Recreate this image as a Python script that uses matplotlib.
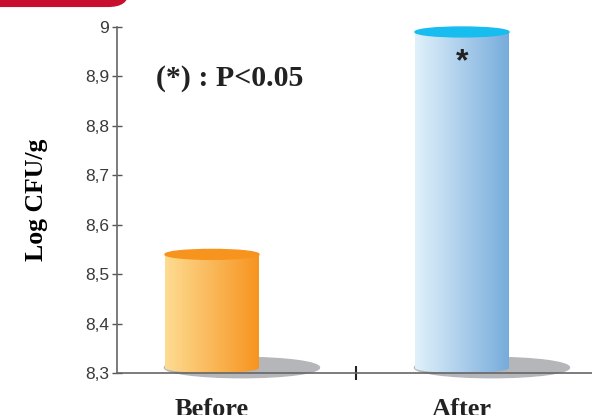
import numpy as np
import matplotlib.pyplot as plt
from matplotlib.patches import Ellipse, PathPatch, FancyBboxPatch
from matplotlib.path import Path
from matplotlib.colors import LinearSegmentedColormap

groups = ['Before', 'After']
log_cfu = [8.54, 8.99]
yticks = [8.3, 8.4, 8.5, 8.6, 8.7, 8.8, 8.9, 9.0]
ytick_labels = ['8,3', '8,4', '8,5', '8,6', '8,7', '8,8', '8,9', '9']
marks = ['', '*']

side_colors = [('#fddc92', '#f7931e'), ('#e0f1fb', '#76abdb')]
top_colors = ['#f7941d', '#18bdef']

fig = plt.figure(figsize=(5.92, 4.15), dpi=100)
ax = fig.add_axes([0.1976, 0.1012, 0.8024, 0.8337])

base = 8.31
w = 0.376
eh = 0.02

for i, (g, v) in enumerate(zip(groups, log_cfu)):
    x0, x1 = i - w / 2, i + w / 2
    # floor shadow
    ax.add_patch(Ellipse((i + 0.12, 8.311), 0.62, 0.041, color='#b5b6ba', zorder=1, clip_on=False))
    # cylinder body: straight sides + rounded bottom
    t = np.linspace(np.pi, 2 * np.pi, 40)
    verts = [(x0, v), (x0, base)]
    verts += list(zip(i + w / 2 * np.cos(t), base + eh / 2 * np.sin(t)))
    verts += [(x1, v), (x0, v)]
    body = PathPatch(Path(verts), facecolor='none', edgecolor='none', transform=ax.transData)
    ax.add_patch(body)
    cmap = LinearSegmentedColormap.from_list('c%d' % i, side_colors[i])
    grad = np.linspace(0, 1, 256).reshape(1, -1)
    im = ax.imshow(grad, cmap=cmap, aspect='auto', extent=[x0, x1, base - eh, v],
                   zorder=2, clip_on=True)
    im.set_clip_path(body)
    ax.add_patch(Ellipse((i, v), w, eh, color=top_colors[i], zorder=3, clip_on=False))
    if marks[i]:
        ax.text(i, v - 0.062, marks[i], ha='center', va='center', fontsize=23,
                fontweight='bold', color='#222222', family='Liberation Sans')

ax.set_xlim(-0.38, 1.52)
ax.set_ylim(8.3, 9.0)
ax.set_yticks(yticks)
ax.set_yticklabels(ytick_labels, fontsize=12.5, color='#3a3a3a', family='Liberation Sans')
ax.set_xticks([0.576])
ax.set_xticklabels([''])
ax.tick_params(axis='y', direction='inout', length=7, width=1, color='#555555', pad=2)
ax.tick_params(axis='x', direction='inout', length=10, width=1.5, color='#222222')
for s in ['top', 'right']:
    ax.spines[s].set_visible(False)
for s in ['left', 'bottom']:
    ax.spines[s].set_color('#666666')
    ax.spines[s].set_linewidth(1.2)
    ax.spines[s].set_zorder(4)
ax.patch.set_alpha(0)

ax.set_ylabel('Log CFU/g', fontsize=18.5, fontweight='bold', family='Liberation Serif', labelpad=27)
ax.text(0.07, 8.895, '(*) : P<0.05', ha='center', va='center', fontsize=21.5,
        fontweight='bold', family='Liberation Serif', color='#222222')

# category names under the bars
for i, g in enumerate(groups):
    xp = ax.transData.transform((i, 8.3))[0] / fig.bbox.width
    fig.text(xp, 0.042, g, ha='center', va='top', fontsize=19, fontweight='bold',
             family='Liberation Serif', color='#222222')

# red header tab
fig.patches.append(FancyBboxPatch((-0.05, 0.983), 0.267, 0.1,
                                  boxstyle='round,pad=0,rounding_size=0.035',
                                  transform=fig.transFigure, facecolor='#c8102e',
                                  edgecolor='none'))

fig.savefig('out.png', dpi=100)
